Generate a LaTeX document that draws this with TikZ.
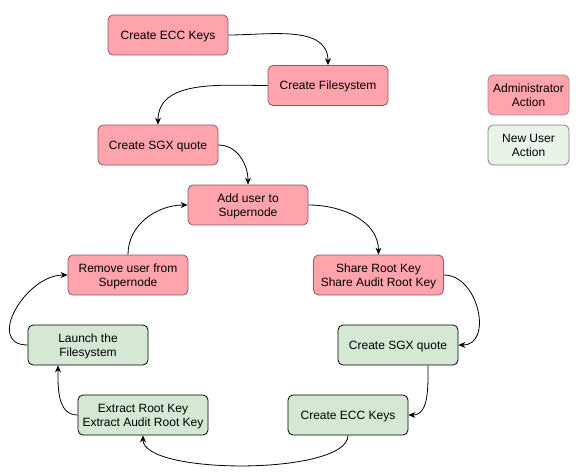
\documentclass[tikz,border=0pt]{standalone}
\usepackage{fontspec}
\setmainfont{Liberation Sans}
\usetikzlibrary{arrows.meta}
\definecolor{pinkfill}{HTML}{FFA3AC}
\definecolor{pinkdraw}{HTML}{8C5A60}
\definecolor{greenfill}{HTML}{D5E8D4}
\definecolor{lightgreen}{HTML}{E8F4E8}
\begin{document}
\begin{tikzpicture}[x=1pt,y=-1pt,
  box/.style={rounded corners=5pt, minimum width=120pt, minimum height=40pt, align=center, inner sep=2pt, font=\fontsize{12}{14}\selectfont, line width=0.8pt},
  oneline/.style={text height=11.5pt, text depth=2.5pt},
  twoline/.style={text height=25.5pt, text depth=2.5pt},
  admin/.style={box, fill=pinkfill, draw=pinkdraw},
  newuser/.style={box, fill=greenfill, draw=black},
  conn/.style={-{Stealth[length=7pt,width=6pt]}, line width=0.8pt}]
\useasboundingbox (0,0) rectangle (583,476);
\node[admin, oneline] (ecc1) at (168,35) {Create ECC Keys};
\node[admin, oneline] (fs) at (328,85.5) {Create Filesystem};
\node[admin, oneline] (sgx1) at (158,145) {Create SGX quote};
\node[admin, twoline] (add) at (248,205) {Add user to\\Supernode};
\node[admin, twoline] (remove) at (128,275) {Remove user from\\Supernode};
\node[admin, twoline, minimum width=130pt] (share) at (378.5,275) {Share Root Key\\Share Audit Root Key};
\node[newuser, twoline] (launch) at (88,345) {Launch the\\Filesystem};
\node[newuser, oneline] (sgx2) at (398,345) {Create SGX quote};
\node[newuser, twoline, minimum width=130pt] (extract) at (143,415) {Extract Root Key\\Extract Audit Root Key};
\node[newuser, oneline] (ecc2) at (348,415) {Create ECC Keys};
\node[admin, twoline, minimum width=81pt, draw=pinkdraw!70] (legA) at (528.5,95) {Administrator\\Action};
\node[box, twoline, minimum width=81pt, fill=lightgreen, draw=black!50] (legN) at (528.5,145) {New User\\Action};

\draw[conn] (ecc1.east) to[out=0,in=90] (fs.north);
\draw[conn] (fs.west) to[out=180,in=90] (sgx1.north);
\draw[conn] (sgx1.east) to[out=0,in=90] (add.north);
\draw[conn] (add.east) to[out=0,in=90] (share.north);
\draw[conn] (share.east) to[out=0,in=0,looseness=1.25] (sgx2.east);
\draw[conn] ([xshift=30pt]sgx2.south) to[out=-90,in=0] (ecc2.east);
\draw[conn] (ecc2.south) to[out=-90,in=-90,looseness=0.5] (extract.south);
\draw[conn] (extract.west) to[out=180,in=-90] ([xshift=-30pt]launch.south);
\draw[conn] (launch.west) to[out=180,in=180,looseness=1.35] (remove.west);
\draw[conn] (remove.north) to[out=90,in=180] (add.west);
\end{tikzpicture}
\end{document}
